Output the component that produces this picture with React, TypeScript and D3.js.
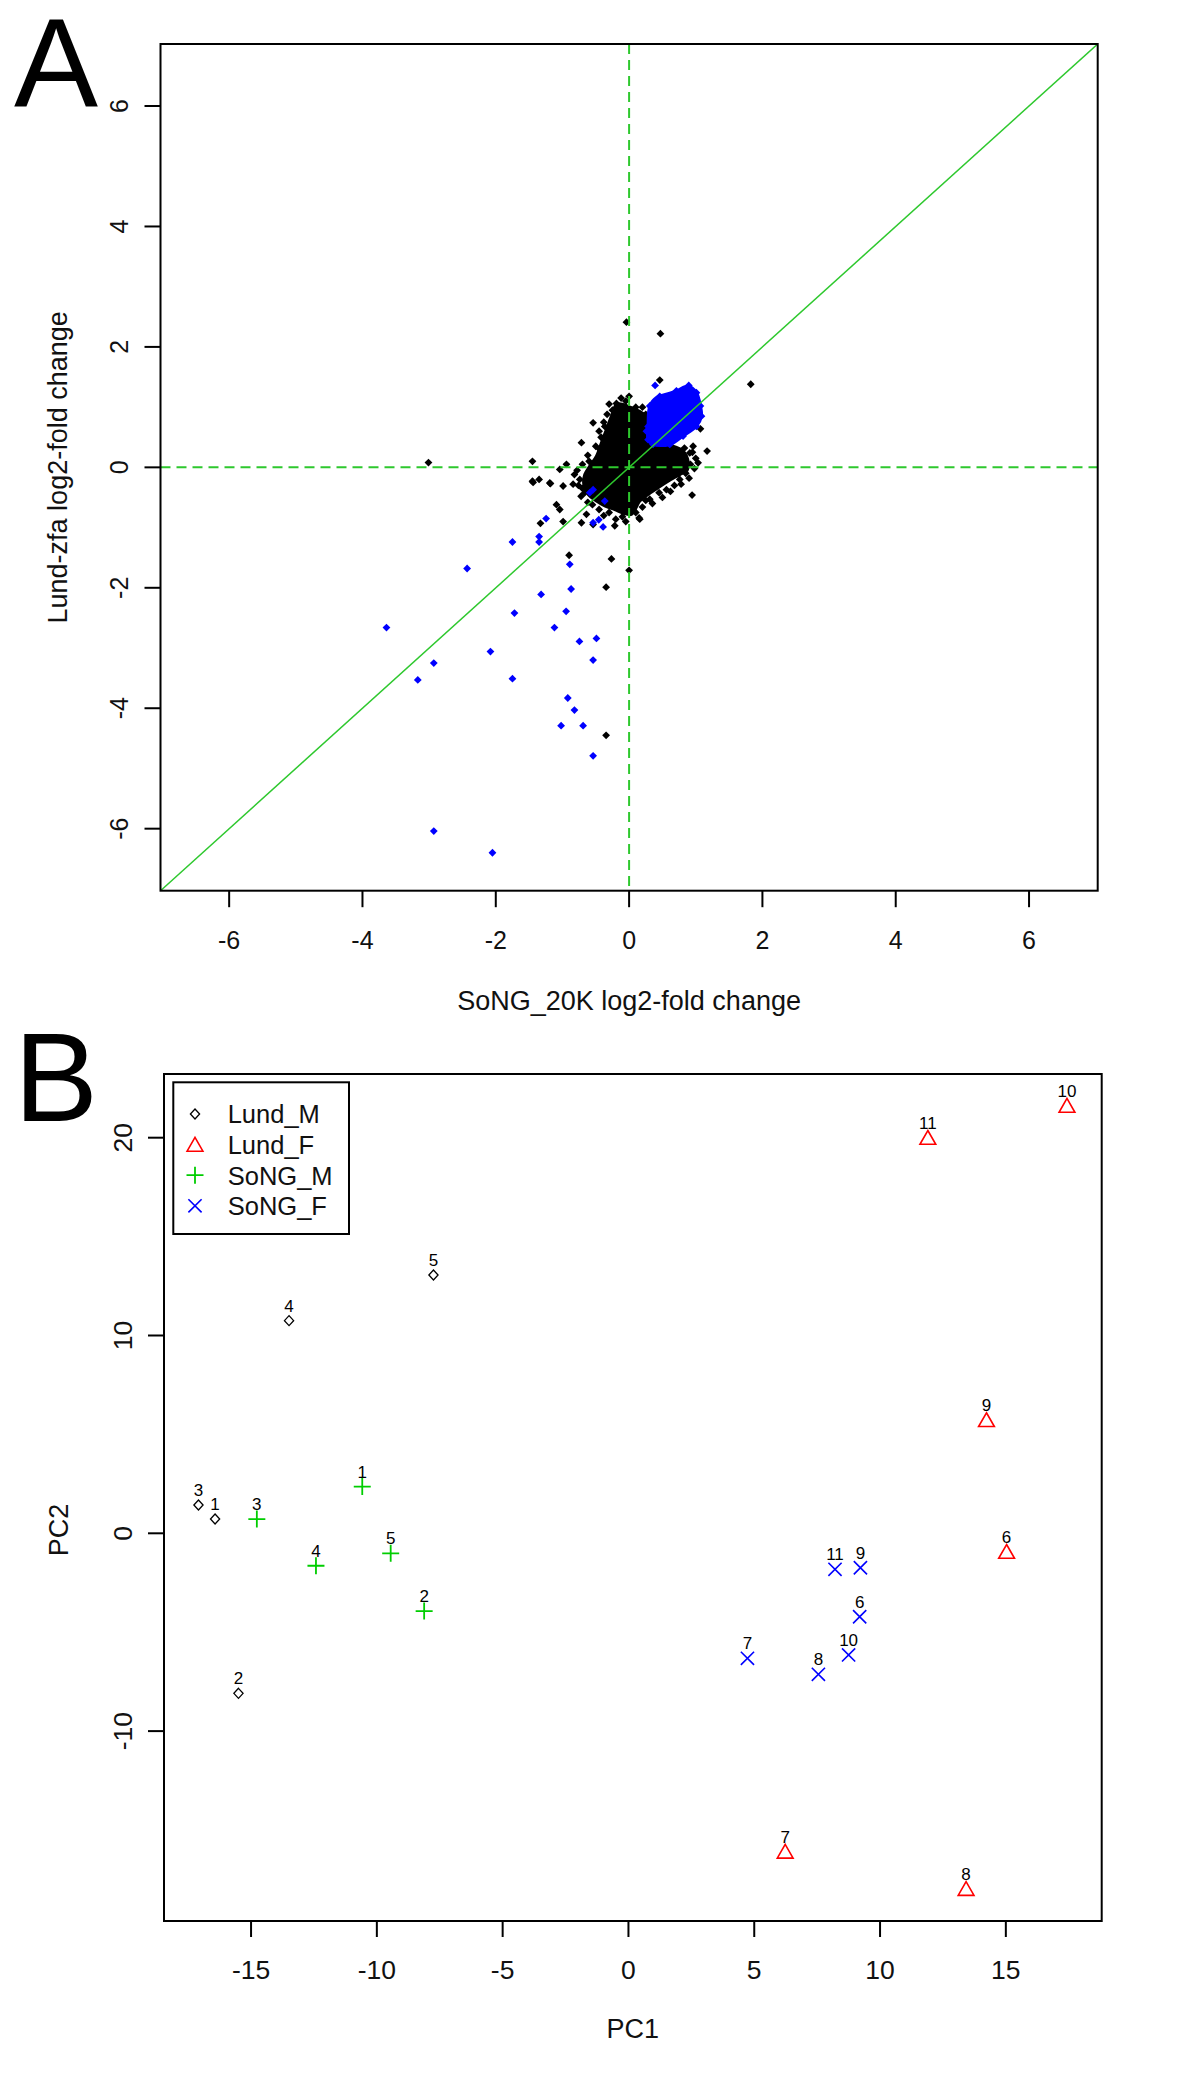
import React from 'react';
import * as d3 from 'd3';

const FONT = "'Liberation Sans', Arial, Helvetica, sans-serif";
const GREEN = '#00CD00';
const LINE_GREEN = '#2ec82e';

// ---------- Panel A data (log2-fold changes) ----------
const ticksA = [-6, -4, -2, 0, 2, 4, 6];

// outline of the dense black core (thousands of overlapping genes)
const blackCoreX = [-0.19, -0.09, 0.035, 0.185, 0.285, 0.285, 0.41, 0.66, 0.81, 0.885, 0.87, 0.76, 0.585, 0.435, 0.285, 0.16, 0.035, -0.09, -0.215, -0.365, -0.49, -0.615, -0.68, -0.665, -0.59, -0.49, -0.415, -0.34, -0.265];
const blackCoreY = [1.045, 1.045, 0.99, 0.91, 0.82, 0.46, 0.38, 0.35, 0.27, 0.1, -0.05, -0.12, -0.23, -0.34, -0.45, -0.56, -0.78, -0.76, -0.7, -0.64, -0.56, -0.45, -0.28, -0.12, 0.02, 0.185, 0.41, 0.63, 0.85];

// outline of the dense blue cluster (upper right)
const blueCoreX = [0.46, 0.71, 0.885, 1.01, 1.07, 1.085, 1.01, 0.81, 0.61, 0.36, 0.285, 0.285, 0.31, 0.41];
const blueCoreY = [1.18, 1.27, 1.35, 1.24, 1.02, 0.85, 0.68, 0.52, 0.38, 0.38, 0.46, 0.68, 1.02, 1.16];

const blackX = [-0.04, 0.47, 0.46, 1.825, -3.01, -0.54, -0.715, -0.365, 1.07, 1.17, 1.035, -1.45, -0.94, -1.04, -1.45, -1.35, -1.19, -0.99, -0.84, -1.09, -1.04, -1.33, -0.99, -0.715, -0.64, -0.54, -0.215, 0.16, 0.31, 0.945, -0.9, -0.265, 0.0, -0.345, -0.345, -1.44, -1.18, 0.15, -0.19, -0.14, -0.74, -0.665, 0.91, 0.96, 0.76, 0.56, -0.3, -0.44, -0.6, -0.78, -0.7, -0.55, -0.3, -0.1, 0.05, 0.25, 0.45, 0.68, 0.85, 0.92, 0.83, 0.1, 0.25, -0.05, -0.25, -0.38,
  -0.42, -0.5, -0.62, -0.7, -0.82, -0.76, -0.72, -0.62, -0.45, -0.38, -0.2, -0.05, 0.1, 0.2, 0.35, 0.5, 0.62, 0.78, 0.9, 0.98, 1.0, 0.95, 0.2, 0.0, -0.12, -0.3, -0.33, -0.45];
const blackY = [2.41, 2.22, 1.45, 1.38, 0.08, 0.74, 0.41, 0.68, 0.64, 0.27, 0.075, 0.1, 0.05, -0.035, -0.23, -0.2, -0.26, -0.31, -0.28, -0.62, -0.7, -0.93, -0.9, -0.92, -0.78, -0.95, -0.97, -0.86, -0.53, -0.46, -1.46, -1.52, -1.71, -1.99, -4.45, -0.25, -0.27, -0.84, 1.06, 0.99, -0.2, -0.42, 0.24, 0.35, -0.2, -0.37, 0.55, 0.3, 0.1, -0.05, -0.35, -0.62, -0.75, -0.82, -0.7, -0.55, -0.42, -0.3, -0.1, 0.05, 0.32, 1.0, 0.88, 1.1, 0.95, 0.75,
  0.5, 0.35, 0.2, 0.05, -0.12, -0.3, -0.48, -0.58, -0.7, -0.8, -0.86, -0.9, -0.75, -0.66, -0.6, -0.5, -0.4, -0.28, -0.18, -0.02, 0.15, 0.25, 1.0, 1.18, 1.15, 1.05, 0.88, 0.6];

const blueX = [0.39, 0.895, 0.26, 0.46, 0.71, 1.01, 1.07, 1.085, 1.01, 0.81, 0.61, 0.36, 0.285, 0.285, 0.31, -0.59, -0.54, -0.365, -0.54, -0.455, -0.39, -1.245, -1.35, -1.35, -1.75, -2.43, -0.89, -0.87, -1.32, -1.72, -0.945, -1.12, -3.64, -0.745, -0.49, -2.08, -0.54, -2.93, -3.17, -1.75, -0.92, -0.82, -1.02, -0.69, -0.54, -2.93, -2.05];
const blueY = [1.36, 1.36, 0.6, 1.18, 1.27, 1.24, 1.02, 0.85, 0.68, 0.52, 0.38, 0.38, 0.46, 0.68, 1.02, -0.42, -0.37, -0.56, -0.92, -0.87, -0.99, -0.85, -1.15, -1.24, -1.24, -1.68, -1.61, -2.02, -2.11, -2.42, -2.39, -2.66, -2.66, -2.89, -2.84, -3.06, -3.2, -3.25, -3.53, -3.51, -3.83, -4.03, -4.29, -4.29, -4.79, -6.04, -6.4];

// ---------- Panel B data (PCA) ----------
const ticksBX = [-15, -10, -5, 0, 5, 10, 15];
const ticksBY = [-10, 0, 10, 20];

const lundM_ids = ['1', '2', '3', '4', '5'];
const lundM_pc1 = [-16.43, -15.5, -17.09, -13.49, -7.75];
const lundM_pc2 = [0.72, -8.09, 1.43, 10.75, 13.06];

const lundF_ids = ['6', '7', '8', '9', '10', '11'];
const lundF_pc1 = [15.03, 6.23, 13.42, 14.23, 17.43, 11.9];
const lundF_pc2 = [-0.93, -16.09, -17.97, 5.73, 21.62, 20.0];

const songM_ids = ['1', '2', '3', '4', '5'];
const songM_pc1 = [-10.58, -8.12, -14.77, -12.42, -9.45];
const songM_pc2 = [2.36, -3.93, 0.72, -1.64, -1.01];

const songF_ids = ['6', '7', '8', '9', '10', '11'];
const songF_pc1 = [9.19, 4.73, 7.55, 9.22, 8.75, 8.21];
const songF_pc2 = [-4.22, -6.32, -7.13, -1.74, -6.15, -1.82];

const legendLabels = ['Lund_M', 'Lund_F', 'SoNG_M', 'SoNG_F'];

const DIAMOND_PT = 'M0,-3.9L3.9,0L0,3.9L-3.9,0Z';
const DIAMOND_OPEN = 'M0,-5L4.6,0L0,5L-4.6,0Z';
const TRIANGLE = 'M0,-7.2L7.9,6.6L-7.9,6.6Z';
const PLUS = 'M-8.5,0L8.5,0M0,-8.5L0,8.5';
const CROSS = 'M-6.6,-6.6L6.6,6.6M-6.6,6.6L6.6,-6.6';

function Marker({ kind, x, y }: { kind: string; x: number; y: number }) {
  const t = `translate(${x},${y})`;
  if (kind === 'diamond') return <path d={DIAMOND_OPEN} transform={t} fill="none" stroke="#000" strokeWidth={1.3} />;
  if (kind === 'triangle') return <path d={TRIANGLE} transform={t} fill="none" stroke="#FF0000" strokeWidth={1.6} />;
  if (kind === 'plus') return <path d={PLUS} transform={t} fill="none" stroke={GREEN} strokeWidth={1.8} />;
  return <path d={CROSS} transform={t} fill="none" stroke="#0000FF" strokeWidth={1.6} />;
}

export default function App() {
  // Panel A scales
  const xA = d3.scaleLinear().domain([-7.03, 7.03]).range([160.5, 1097.7]);
  const yA = d3.scaleLinear().domain([-7.03, 7.03]).range([890.7, 44]);
  // Panel B scales
  const xB = d3.scaleLinear().domain([-18.46, 18.81]).range([164, 1101.7]);
  const yB = d3.scaleLinear().domain([-19.6, 23.22]).range([1921, 1074]);

  const hull = d3
    .line<[number, number]>()
    .x((d) => xA(d[0]))
    .y((d) => yA(d[1]))
    .curve(d3.curveCatmullRomClosed);

  const blackCore = hull(blackCoreX.map((v, i) => [v, blackCoreY[i]] as [number, number])) || '';
  const blueCore = hull(blueCoreX.map((v, i) => [v, blueCoreY[i]] as [number, number])) || '';

  const [ax0, ax1] = xA.range();
  const [ay0, ay1] = yA.range();
  const [bx0, bx1] = xB.range();
  const [by0, by1] = yB.range();

  const groups = [
    { kind: 'diamond', ids: lundM_ids, xs: lundM_pc1, ys: lundM_pc2 },
    { kind: 'triangle', ids: lundF_ids, xs: lundF_pc1, ys: lundF_pc2 },
    { kind: 'plus', ids: songM_ids, xs: songM_pc1, ys: songM_pc2 },
    { kind: 'cross', ids: songF_ids, xs: songF_pc1, ys: songF_pc2 },
  ];

  return (
    <svg
      width={1200}
      height={2087}
      viewBox="0 0 1200 2087"
      style={{ position: 'absolute', left: 0, top: 0, background: '#fff' }}
      fontFamily={FONT}
    >
      <rect x={0} y={0} width={1200} height={2087} fill="#fff" />
      <defs>
        <clipPath id="clipA">
          <rect x={ax0} y={ay1} width={ax1 - ax0} height={ay0 - ay1} />
        </clipPath>
      </defs>

      {/* ================= Panel A ================= */}
      <text x={14} y={106} fontSize={126} fill="#000">A</text>

      <g clipPath="url(#clipA)">
        <path d={blackCore} fill="#000" stroke="#000" strokeWidth={3} />
        {blackX.map((v, i) => (
          <path key={'bk' + i} d={DIAMOND_PT} transform={`translate(${xA(v)},${yA(blackY[i])})`} fill="#000" />
        ))}
        <path d={blueCore} fill="#0000FF" stroke="#0000FF" strokeWidth={3} />
        {blueX.map((v, i) => (
          <path key={'bl' + i} d={DIAMOND_PT} transform={`translate(${xA(v)},${yA(blueY[i])})`} fill="#0000FF" />
        ))}
        {/* reference lines */}
        <line x1={xA(0)} x2={xA(0)} y1={ay1} y2={ay0} stroke={LINE_GREEN} strokeWidth={2} strokeDasharray="10,6" />
        <line x1={ax0} x2={ax1} y1={yA(0)} y2={yA(0)} stroke={LINE_GREEN} strokeWidth={2} strokeDasharray="10,6" />
        <line x1={xA(-7.03)} y1={yA(-7.03)} x2={xA(7.03)} y2={yA(7.03)} stroke={LINE_GREEN} strokeWidth={1.5} />
      </g>
      <rect x={ax0} y={ay1} width={ax1 - ax0} height={ay0 - ay1} fill="none" stroke="#000" strokeWidth={2} />

      {ticksA.map((t) => (
        <g key={'ax' + t}>
          <line x1={xA(t)} x2={xA(t)} y1={ay0} y2={ay0 + 16.5} stroke="#000" strokeWidth={2} />
          <text x={xA(t)} y={949} fontSize={25} textAnchor="middle" fill="#111">{t}</text>
        </g>
      ))}
      {ticksA.map((t) => (
        <g key={'ay' + t}>
          <line x1={ax0} x2={ax0 - 16} y1={yA(t)} y2={yA(t)} stroke="#000" strokeWidth={2} />
          <text transform={`translate(128,${yA(t)}) rotate(-90)`} fontSize={25} textAnchor="middle" fill="#111">{t}</text>
        </g>
      ))}
      <text x={(ax0 + ax1) / 2} y={1010} fontSize={27} textAnchor="middle" fill="#111">SoNG_20K log2-fold change</text>
      <text transform={`translate(67,${(ay0 + ay1) / 2}) rotate(-90)`} fontSize={27} textAnchor="middle" fill="#111">Lund-zfa log2-fold change</text>

      {/* ================= Panel B ================= */}
      <text x={14} y={1121} fontSize={126} fill="#000">B</text>
      <rect x={bx0} y={by1} width={bx1 - bx0} height={by0 - by1} fill="none" stroke="#000" strokeWidth={2} />

      {ticksBX.map((t) => (
        <g key={'bx' + t}>
          <line x1={xB(t)} x2={xB(t)} y1={by0} y2={by0 + 16} stroke="#000" strokeWidth={2} />
          <text x={xB(t)} y={1979} fontSize={26.5} textAnchor="middle" fill="#111">{t}</text>
        </g>
      ))}
      {ticksBY.map((t) => (
        <g key={'by' + t}>
          <line x1={bx0} x2={bx0 - 16} y1={yB(t)} y2={yB(t)} stroke="#000" strokeWidth={2} />
          <text transform={`translate(131.5,${yB(t)}) rotate(-90)`} fontSize={26.5} textAnchor="middle" fill="#111">{t}</text>
        </g>
      ))}
      <text x={(bx0 + bx1) / 2} y={2038} fontSize={27} textAnchor="middle" fill="#111">PC1</text>
      <text transform={`translate(68,1530) rotate(-90)`} fontSize={27} textAnchor="middle" fill="#111">PC2</text>

      {groups.map((g) =>
        g.xs.map((v, i) => (
          <g key={g.kind + i}>
            <Marker kind={g.kind} x={xB(v)} y={yB(g.ys[i])} />
            <text x={xB(v)} y={yB(g.ys[i]) - 9} fontSize={17} textAnchor="middle" fill="#000">{g.ids[i]}</text>
          </g>
        ))
      )}

      {/* legend */}
      <rect x={173.3} y={1082.3} width={175.7} height={151.7} fill="#fff" stroke="#000" strokeWidth={2} />
      {legendLabels.map((lab, i) => {
        const cy = 1114 + i * 30.6;
        const kinds = ['diamond', 'triangle', 'plus', 'cross'];
        return (
          <g key={lab}>
            <Marker kind={kinds[i]} x={195} y={cy} />
            <text x={227.7} y={cy + 9.3} fontSize={25.5} fill="#111">{lab}</text>
          </g>
        );
      })}
    </svg>
  );
}
